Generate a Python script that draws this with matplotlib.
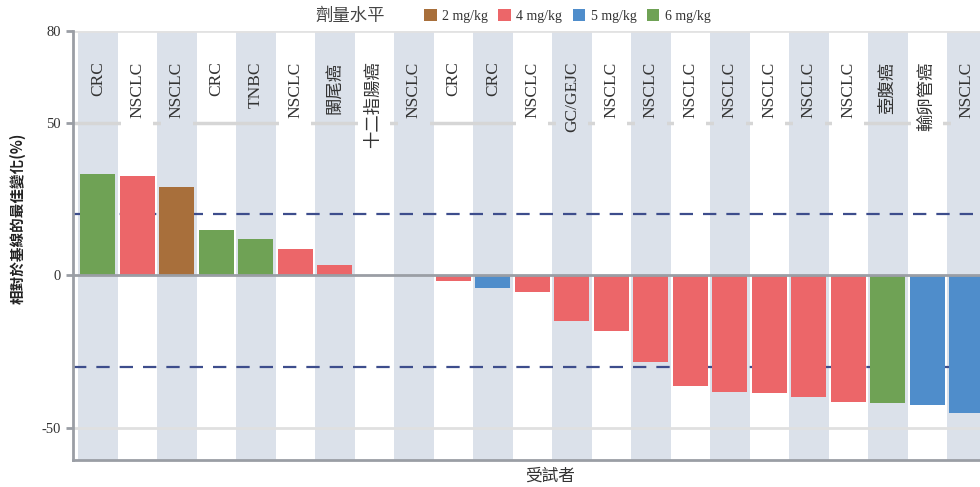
import matplotlib
matplotlib.use('Agg')
import matplotlib.pyplot as plt
from matplotlib.patches import Patch

categories = ['CRC', 'NSCLC', 'NSCLC', 'CRC', 'TNBC', 'NSCLC', '闌尾癌', '十二指腸癌',
              'NSCLC', 'CRC', 'CRC', 'NSCLC', 'GC/GEJC', 'NSCLC', 'NSCLC', 'NSCLC',
              'NSCLC', 'NSCLC', 'NSCLC', 'NSCLC', '壺腹癌', '輸卵管癌', 'NSCLC']
values = [33.2, 32.7, 28.9, 14.9, 11.8, 8.7, 3.3, 0.0, 0.0, -1.8, -4.0, -5.5,
          -14.9, -18.1, -28.3, -36.1, -38.0, -38.5, -39.7, -41.3, -41.7, -42.3, -45.0]
doses = ['6 mg/kg', '4 mg/kg', '2 mg/kg', '6 mg/kg', '6 mg/kg', '4 mg/kg', '4 mg/kg',
         None, None, '4 mg/kg', '5 mg/kg', '4 mg/kg', '4 mg/kg', '4 mg/kg', '4 mg/kg',
         '4 mg/kg', '4 mg/kg', '4 mg/kg', '4 mg/kg', '4 mg/kg', '6 mg/kg', '5 mg/kg', '5 mg/kg']
dose_levels = ['2 mg/kg', '4 mg/kg', '5 mg/kg', '6 mg/kg']
dose_colors = ['#a86f3b', '#ec6669', '#4f8dcb', '#6fa255']
thresholds = [20, -30]
yticks = [80, 50, 0, -50]
legend_title = '劑量水平'
ylabel = '相對於基線的最佳變化(%)'
xlabel = '受試者'

cmap = dict(zip(dose_levels, dose_colors))
band = '#dbe1ea'
serif_cjk = ['Liberation Serif', 'Noto Sans CJK TC']
cjk = ['Noto Sans CJK TC', 'DejaVu Sans']

W, H = 980, 487
fig = plt.figure(figsize=(W / 100, H / 100), dpi=100)
ax_left, ax_right, ax_top, ax_bot = 73, 991.5, 31, 460
ax = fig.add_axes([ax_left / W, (H - ax_bot) / H, (ax_right - ax_left) / W, (ax_bot - ax_top) / H])

n = len(categories)
pad = 5 / 39.5
ax.set_xlim(-0.5 - pad, n - 0.5 + pad)
ax.set_ylim(-60.4, 80)

for i in range(n):
    if i % 2 == 0:
        ax.axvspan(i - 0.5, i + 0.5, color=band, lw=0, zorder=0)

# grid lines
ax.axhline(80, color='#e2e2e2', lw=2, zorder=0.5)
ax.axhline(50, color='#d6d6d6', lw=2.5, zorder=0.5)
ax.axhline(-50, color='#e0e0e0', lw=2, zorder=0.5)
for t in thresholds:
    ax.axhline(t, color='#3d4d8c', lw=1.6, dashes=(6, 4.5), zorder=1)

for i, (v, d) in enumerate(zip(values, doses)):
    if d is not None and v != 0:
        ax.bar(i, v, width=0.89, color=cmap[d], zorder=2, lw=0)

ax.axhline(0, color='#9a9ea5', lw=2, zorder=3)

for i, c in enumerate(categories):
    fc = band if i % 2 == 0 else 'white'
    ax.text(i, 70, c, rotation=90, ha='center', va='top', fontsize=12.5,
            family=serif_cjk, color='#333333', zorder=4,
            bbox=dict(boxstyle='square,pad=0.45', fc=fc, ec='none'))

ax.set_xticks([])
ax.set_yticks(yticks)
ax.set_yticklabels([str(t) for t in yticks], family='Liberation Serif', fontsize=10.5, color='#333333')
ax.tick_params(axis='y', length=5, width=2, color='#9a9ea5', pad=4)
for s in ['top', 'right']:
    ax.spines[s].set_visible(False)
for s in ['left', 'bottom']:
    ax.spines[s].set_color('#9a9ea5')
    ax.spines[s].set_linewidth(2)

fig.text(18 / W, 1 - 218 / H, ylabel, rotation=90, ha='center', va='center',
         fontsize=10.5, family=cjk, weight='bold', color='#222222')
fig.text(550 / W, 1 - 476 / H, xlabel, ha='center', va='center',
         fontsize=12, family=cjk, color='#333333')
fig.text(350 / W, 1 - 16 / H, legend_title, ha='center', va='center',
         fontsize=12.5, family=cjk, color='#444444')

handles = [Patch(facecolor=c, edgecolor='none') for c in dose_colors]
fig.legend(handles, dose_levels, ncol=4, loc='center left',
           bbox_to_anchor=(424 / W, 1 - 16 / H), frameon=False,
           prop={'family': 'Liberation Serif', 'size': 10},
           handlelength=0.9, handleheight=0.9, handletextpad=0.4,
           columnspacing=0.75, borderaxespad=0, borderpad=0, labelcolor='#333333')

fig.savefig('out.png', dpi=100)
